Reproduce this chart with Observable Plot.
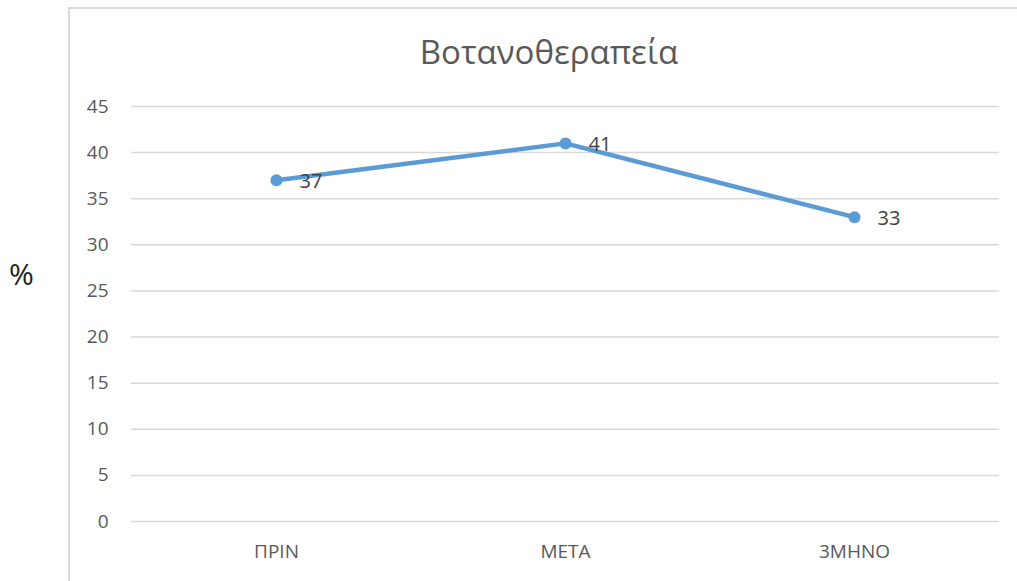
<!DOCTYPE html>
<html>
<head>
<meta charset="utf-8">
<script src="https://cdn.jsdelivr.net/npm/d3@7"></script>
<script src="https://cdn.jsdelivr.net/npm/@observablehq/plot@0.6"></script>
<style>
  html, body { margin: 0; padding: 0; background: #fff; }
  #wrap { position: relative; width: 1017px; height: 581px; overflow: hidden; font-family: "Open Sans", "Noto Sans", sans-serif; }
  #frame { position: absolute; left: 68px; top: 7px; width: 1000px; height: 640px; border: 2px solid #d9d9d9; box-sizing: border-box; }
  #title { position: absolute; left: 68px; width: 962px; top: 35px; text-align: center; font-size: 33px; color: #595959; line-height: 1; }
  #ylab { position: absolute; left: 9px; top: 256px; font-size: 30px; color: #222; line-height: 1.2; }
  #chart { position: absolute; left: 0; top: 0; }
</style>
</head>
<body>
<div id="wrap">
  <div id="frame"></div>
  <div id="title">Βοτανοθεραπεία</div>
  <div id="ylab">%</div>
  <div id="chart"></div>
</div>
<script>
const categories = ["ΠΡΙΝ", "ΜΕΤΑ", "3ΜΗΝΟ"];
const values = [37, 41, 33];
const yTicks = [0, 5, 10, 15, 20, 25, 30, 35, 40, 45];

const data = categories.map((c, i) => ({ cat: c, val: values[i] }));

const chart = Plot.plot({
  width: 1017,
  height: 581,
  marginLeft: 131,
  marginRight: 18,
  marginTop: 106,
  marginBottom: 60,
  style: { fontFamily: "'Open Sans', 'Noto Sans', sans-serif", background: "transparent" },
  x: { type: "point", domain: categories, padding: 0.5, label: null },
  y: { domain: [0, 45], label: null },
  marks: [
    Plot.gridY(yTicks, { stroke: "#d9d9d9", strokeOpacity: 1, strokeWidth: 1.5 }),
    Plot.axisY(yTicks, { tickSize: 0, tickPadding: 23, fontSize: 19, fill: "#595959", label: null }),
    Plot.axisX({ tickSize: 0, tickPadding: 23, fontSize: 19, fill: "#595959", label: null }),
    Plot.line(data, { x: "cat", y: "val", stroke: "#5b9bd5", strokeWidth: 4.5 }),
    Plot.dot(data, { x: "cat", y: "val", fill: "#5b9bd5", r: 6 }),
    Plot.text(data, { x: "cat", y: "val", text: d => String(d.val), textAnchor: "start", dx: 23, dy: 1, fontSize: 20, fill: "#404040" })
  ]
});
document.getElementById("chart").appendChild(chart);
</script>
</body>
</html>
